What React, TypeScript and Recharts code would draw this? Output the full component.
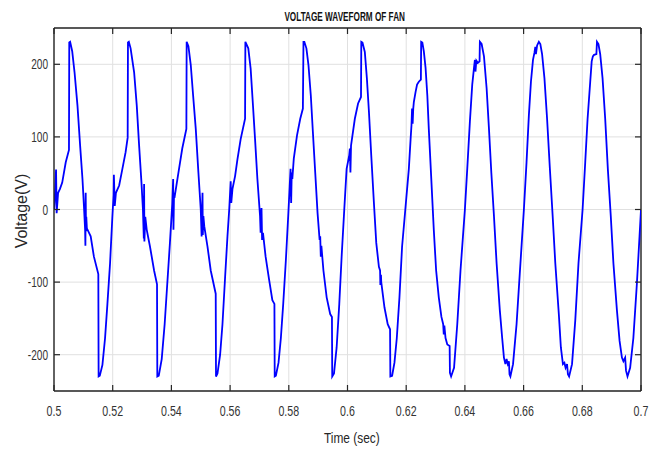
import React from "react";
import { LineChart, Line, XAxis, YAxis, CartesianGrid, ReferenceLine } from "recharts";

// time (s), voltage (V), 0.04 s per block
const seg1: [number, number][] = [
  [0.5, 0], [0.5002, 10], [0.5007, 55], [0.5009, -5], [0.5014, 23], [0.502, 28], [0.5028, 37],
  [0.504, 65], [0.5051, 82], [0.5052, 230], [0.5055, 231], [0.5062, 218], [0.507, 189],
  [0.508, 143], [0.5089, 88], [0.5097, 42], [0.5102, 5], [0.5106, -28], [0.5107, -50],
  [0.5108, 23], [0.5109, -30], [0.511, -10], [0.5112, -26], [0.5125, -37], [0.5136, -65],
  [0.5151, -89], [0.5152, -230], [0.5156, -229], [0.5165, -214], [0.5174, -177], [0.5182, -130],
  [0.5191, -74], [0.5199, -9], [0.5203, 20], [0.5204, 48], [0.5207, 5], [0.5211, 23],
  [0.5222, 33], [0.5233, 56], [0.5244, 79], [0.5251, 99], [0.5252, 230], [0.5255, 231],
  [0.5261, 222], [0.5273, 189], [0.5282, 143], [0.529, 88], [0.5298, 37], [0.5303, 0],
  [0.5306, -40], [0.5307, 35], [0.5308, -44], [0.5311, -10], [0.5316, -28], [0.5327, -51],
  [0.5341, -84], [0.5351, -103], [0.5352, -230], [0.5357, -229], [0.5367, -206], [0.5377, -158],
  [0.5386, -102], [0.5395, -46], [0.5403, 8],
];

const seg2: [number, number][] = [
  [0.5406, 42], [0.5407, -28], [0.5409, 23], [0.5412, 20], [0.5417, 33], [0.5426, 56],
  [0.5437, 84], [0.5451, 111], [0.5452, 231], [0.5458, 225], [0.5466, 199], [0.5474, 157],
  [0.5483, 111], [0.5492, 51], [0.55, 0], [0.5503, -37], [0.5506, 23], [0.5507, -35],
  [0.5509, -9], [0.5512, -23], [0.5523, -51], [0.5534, -84], [0.5551, -116], [0.5552, -230],
  [0.5557, -226], [0.5566, -200], [0.5574, -158], [0.5583, -93], [0.5591, -37], [0.5597, 0],
  [0.5602, 39], [0.5604, 9], [0.5608, 28], [0.5617, 46], [0.5625, 69], [0.5636, 97],
  [0.5651, 125], [0.5652, 231], [0.5662, 222], [0.567, 194], [0.5678, 143], [0.5685, 97],
  [0.5693, 42], [0.5702, -9], [0.5704, -32], [0.5707, 2], [0.5709, -42], [0.5712, -32],
  [0.5721, -65], [0.5733, -97], [0.5744, -125], [0.5751, -130], [0.5752, -230], [0.5756, -229],
  [0.5765, -211], [0.5773, -177], [0.5781, -130], [0.579, -70], [0.5798, -9],
];

const seg3: [number, number][] = [
  [0.5803, 32], [0.5806, 56], [0.5808, 9], [0.581, 51], [0.5812, 42], [0.5817, 70],
  [0.5828, 102], [0.5839, 125], [0.5848, 139], [0.585, 231], [0.5853, 231], [0.586, 222],
  [0.5867, 199], [0.5875, 157], [0.5882, 107], [0.589, 51], [0.5898, -5], [0.5905, -42],
  [0.5907, -37], [0.5909, -65], [0.5911, -50], [0.5918, -84], [0.5929, -121], [0.5941, -144],
  [0.5947, -148], [0.5948, -230], [0.5954, -226], [0.5963, -190], [0.5972, -130], [0.598, -65],
  [0.5989, 0], [0.5997, 56], [0.6006, 75], [0.6008, 84], [0.601, 51], [0.6012, 88],
  [0.6025, 125], [0.6036, 146], [0.6046, 155], [0.6047, 231], [0.6051, 230], [0.6059, 217],
  [0.6066, 181], [0.6073, 135], [0.6081, 74], [0.609, 9], [0.6098, -46], [0.6107, -79],
  [0.6111, -84], [0.6112, -104], [0.6114, -90], [0.6115, -100], [0.6126, -135], [0.6137, -158],
  [0.6145, -165], [0.6146, -230], [0.6152, -229], [0.616, -211], [0.6168, -177], [0.6177, -121],
  [0.6186, -51], [0.6197, 0],
];

const seg4: [number, number][] = [
  [0.6209, 56], [0.6215, 97], [0.6218, 116], [0.622, 139], [0.6222, 118], [0.6224, 139],
  [0.6226, 148], [0.6232, 162], [0.6237, 172], [0.6243, 176], [0.625, 179], [0.6251, 231],
  [0.6255, 230], [0.626, 218], [0.6266, 195], [0.6272, 157], [0.6277, 111], [0.6285, 46],
  [0.6294, -28], [0.6302, -84], [0.6311, -121], [0.632, -148], [0.6326, -158], [0.6328, -172],
  [0.633, -160], [0.6334, -177], [0.634, -186], [0.6348, -188], [0.6349, -225], [0.6353, -230],
  [0.6363, -218], [0.6374, -158], [0.6385, -84], [0.64, 0], [0.6408, 56], [0.6417, 121],
  [0.6425, 172], [0.6431, 195], [0.6434, 206], [0.6436, 190], [0.6439, 205], [0.6444, 202],
  [0.645, 204], [0.6451, 231], [0.6457, 228], [0.6465, 211], [0.6474, 167], [0.6482, 111],
  [0.649, 51], [0.6499, -9], [0.6508, -74], [0.6519, -139], [0.6527, -177], [0.6533, -204],
  [0.6538, -213], [0.6542, -206], [0.6546, -213], [0.655, -209], [0.6552, -227], [0.6555, -230],
  [0.6564, -213], [0.6576, -158], [0.6587, -88],
];

const seg5: [number, number][] = [
  [0.6601, 0], [0.661, 65], [0.6618, 130], [0.6625, 176], [0.6632, 206], [0.6637, 216],
  [0.664, 224], [0.6642, 214], [0.6646, 226], [0.6652, 231], [0.6657, 228], [0.6663, 214],
  [0.6671, 181], [0.668, 125], [0.6689, 60], [0.6699, -9], [0.6708, -74], [0.672, -144],
  [0.6727, -190], [0.6734, -213], [0.6739, -211], [0.6743, -218], [0.6748, -213], [0.6751, -227],
  [0.6755, -230], [0.6765, -213], [0.6776, -153], [0.6787, -74], [0.6801, 0], [0.681, 65],
  [0.6818, 125], [0.6827, 176], [0.6832, 204], [0.6836, 211], [0.684, 213], [0.6848, 214],
  [0.685, 231], [0.6855, 228], [0.6861, 214], [0.6869, 181], [0.6878, 125], [0.6887, 56],
  [0.6897, -9], [0.6906, -74], [0.6918, -139], [0.6927, -181], [0.6935, -204], [0.694, -209],
  [0.6946, -204], [0.6949, -222], [0.6954, -230], [0.6963, -218], [0.6974, -177], [0.6986, -102],
  [0.6995, -37], [0.7, 0],
];

const xTicks = [0.5, 0.52, 0.54, 0.56, 0.58, 0.6, 0.62, 0.64, 0.66, 0.68, 0.7];
const yTicks = [-200, -100, 0, 100, 200];

const data = [...seg1, ...seg2, ...seg3, ...seg4, ...seg5].map(([t, v]) => ({ t, v }));

// plot box in page pixels
const TOP = 28;
const BOTTOM = 391;
const LEFT = 54;
const RIGHT = 641;
const AXIS = "#262626";
const FONT = "'Liberation Sans', Arial, sans-serif";

const fmt = (v: number) => String(Number(v.toFixed(2)));

function XTick(props: any) {
  const { x, payload } = props;
  return (
    <g>
      <line x1={x} x2={x} y1={BOTTOM} y2={BOTTOM - 6} stroke={AXIS} strokeWidth={1.2} />
      <line x1={x} x2={x} y1={TOP} y2={TOP + 6} stroke={AXIS} strokeWidth={1.2} />
      <text
        x={0}
        y={0}
        transform={`translate(${x},${BOTTOM + 25}) scale(0.76,1)`}
        textAnchor="middle"
        fontSize={14}
        fontFamily={FONT}
        fill="#333"
      >
        {fmt(payload.value)}
      </text>
    </g>
  );
}

function YTick(props: any) {
  const { y, payload } = props;
  return (
    <g>
      <line x1={LEFT} x2={LEFT + 6} y1={y} y2={y} stroke={AXIS} strokeWidth={1.2} />
      <line x1={RIGHT} x2={RIGHT - 6} y1={y} y2={y} stroke={AXIS} strokeWidth={1.2} />
      <text
        x={0}
        y={0}
        transform={`translate(${LEFT - 6},${y + 5}) scale(0.72,1)`}
        textAnchor="end"
        fontSize={14}
        fontFamily={FONT}
        fill="#333"
      >
        {payload.value}
      </text>
    </g>
  );
}

export default function App() {
  return (
    <div style={{ position: "absolute", left: 0, top: 0, width: 664, height: 450, background: "#fff" }}>
      <LineChart
        width={664}
        height={450}
        data={data}
        margin={{ top: TOP, right: 664 - RIGHT, bottom: 0, left: 0 }}
      >
        <CartesianGrid stroke="#e0e0e0" strokeWidth={1} />
        <XAxis
          dataKey="t"
          type="number"
          domain={[0.5, 0.7]}
          ticks={xTicks}
          allowDataOverflow
          height={450 - BOTTOM}
          tickLine={false}
          axisLine={{ stroke: AXIS, strokeWidth: 1.4 }}
          tick={<XTick />}
          interval={0}
        />
        <YAxis
          type="number"
          domain={[-250, 250]}
          ticks={yTicks}
          allowDataOverflow
          width={LEFT}
          tickLine={false}
          axisLine={{ stroke: AXIS, strokeWidth: 1.4 }}
          tick={<YTick />}
          interval={0}
        />
        <ReferenceLine x={0.7} stroke={AXIS} strokeWidth={1.4} />
        <ReferenceLine y={250} stroke={AXIS} strokeWidth={1.4} />
        <Line
          type="linear"
          dataKey="v"
          stroke="#0000ff"
          strokeWidth={1.8}
          dot={false}
          isAnimationActive={false}
        />
      </LineChart>
      <div
        style={{
          position: "absolute",
          left: 0,
          top: 10,
          width: 690,
          textAlign: "center",
          fontFamily: FONT,
          fontWeight: "bold",
          fontSize: 13,
          lineHeight: "13px",
          color: "#111",
        }}
      >
        <span style={{ display: "inline-block", transform: "scaleX(0.63)", whiteSpace: "nowrap" }}>
          VOLTAGE WAVEFORM OF FAN
        </span>
      </div>
      <div
        style={{
          position: "absolute",
          left: 0,
          top: 431,
          width: 704,
          textAlign: "center",
          fontFamily: FONT,
          fontSize: 14,
          lineHeight: "14px",
          color: "#262626",
        }}
      >
        <span style={{ display: "inline-block", transform: "scaleX(0.85)", whiteSpace: "nowrap" }}>
          Time (sec)
        </span>
      </div>
      <div
        style={{
          position: "absolute",
          left: 22,
          top: 211,
          transform: "translate(-50%, -50%) rotate(-90deg)",
          fontFamily: FONT,
          fontSize: 16,
          lineHeight: "16px",
          whiteSpace: "nowrap",
          color: "#262626",
        }}
      >
        Voltage(V)
      </div>
    </div>
  );
}
